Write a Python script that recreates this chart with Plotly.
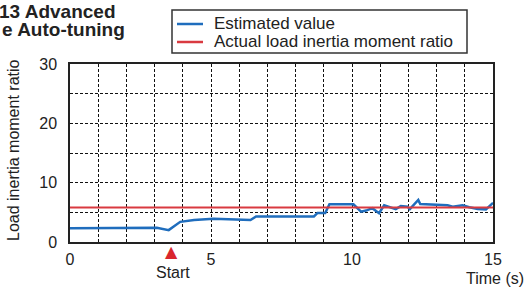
import plotly.graph_objects as go

# Data
time_s = [0, 1, 2, 3.08, 3.5, 3.91, 4.4, 5.09, 6.4, 6.6, 7.1, 8.65, 8.78, 9.05, 9.2,
          10.05, 10.32, 10.5, 10.72, 10.96, 11.14, 11.38, 11.55, 11.73, 11.97, 12.05,
          12.35, 12.42, 13.39, 13.57, 13.92, 14.16, 14.46, 14.75, 15.0]
estimated = [2.3, 2.35, 2.4, 2.4, 2.0, 3.4, 3.7, 3.9, 3.7, 4.3, 4.3, 4.3, 4.9, 4.9, 6.35,
             6.35, 5.1, 5.3, 5.7, 4.85, 6.2, 5.85, 5.55, 6.05, 5.95, 5.55,
             7.1, 6.4, 6.2, 5.95, 6.2, 5.85, 5.55, 5.5, 6.6]
actual_time = [0, 15]
actual_ratio = [5.8, 5.8]
start_time = 3.6
series_names = ["Estimated value", "Actual load inertia moment ratio"]
series_colors = ["#1f6dbd", "#d93a40"]
x_ticks = [0, 5, 10, 15]
y_ticks = [0, 10, 20, 30]

FONT = "Liberation Sans, Arial, sans-serif"
L, R, T, B = 70, 34, 64, 47
PW, PH = 527 - L - R, 289 - T - B


def px(xp):
    return (xp - L) / PW


def py(yp):
    return (289 - B - yp) / PH


fig = go.Figure()
fig.add_trace(go.Scatter(x=time_s, y=estimated, mode="lines", name=series_names[0],
                         line=dict(color=series_colors[0], width=2.5)))
fig.add_trace(go.Scatter(x=actual_time, y=actual_ratio, mode="lines",
                         name=series_names[1],
                         line=dict(color=series_colors[1], width=2)))

grid = dict(showgrid=True, gridcolor="#111", gridwidth=1, griddash="3px,2px")
fig.update_xaxes(range=[0, 15], tickvals=x_ticks, ticks="", zeroline=False,
                 showline=True, linecolor="#222", linewidth=1.5, mirror=True,
                 tickfont=dict(family=FONT, size=16, color="#222"),
                 minor=dict(dtick=1, showgrid=True, gridcolor="#111", gridwidth=1,
                            griddash="3px,2px"),
                 ticklabelstandoff=2, **grid)
fig.update_yaxes(range=[0, 30], tickvals=y_ticks, ticks="", zeroline=False,
                 showline=True, linecolor="#222", linewidth=1.5, mirror=True,
                 tickfont=dict(family=FONT, size=16, color="#222"),
                 minor=dict(dtick=5, showgrid=True, gridcolor="#111", gridwidth=1,
                            griddash="3px,2px"),
                 ticklabelstandoff=8, **grid)

fig.update_layout(
    width=527, height=289,
    margin=dict(l=L, r=R, t=T, b=B),
    plot_bgcolor="white", paper_bgcolor="white",
    font=dict(family=FONT, color="#222"),
    showlegend=False,
)

# Legend box drawn by hand to match the reference's compact layout
fig.add_shape(type="rect", xref="paper", yref="paper",
              x0=px(172), x1=px(467), y0=py(53), y1=py(10),
              line=dict(color="#333", width=1.5), fillcolor="white", layer="above")
for i, (name, color) in enumerate(zip(series_names, series_colors)):
    yy = 24 + 18 * i
    fig.add_shape(type="line", xref="paper", yref="paper",
                  x0=px(177), x1=px(203), y0=py(yy), y1=py(yy),
                  line=dict(color=color, width=2.5), layer="above")
    fig.add_annotation(text=name, xref="paper", yref="paper",
                       x=px(212), y=py(yy), xanchor="left", yanchor="middle",
                       showarrow=False, font=dict(family=FONT, size=17, color="#222"))

fig.add_annotation(text="<b>13 Advanced</b>", xref="paper", yref="paper",
                   x=px(118), y=py(11), xanchor="right", yanchor="middle",
                   showarrow=False, font=dict(family=FONT, size=19, color="#222"))
fig.add_annotation(text="<b>e Auto-tuning</b>", xref="paper", yref="paper",
                   x=px(127), y=py(30), xanchor="right", yanchor="middle",
                   showarrow=False, font=dict(family=FONT, size=19, color="#222"))
fig.add_annotation(text="Load inertia moment ratio", xref="paper", yref="paper",
                   x=px(13), y=py(150), xanchor="center", yanchor="middle",
                   textangle=-90, showarrow=False,
                   font=dict(family=FONT, size=16, color="#222"))
fig.add_annotation(text="Time (s)", xref="paper", yref="paper",
                   x=px(495), y=py(278), xanchor="center", yanchor="middle",
                   showarrow=False, font=dict(family=FONT, size=16, color="#222"))
fig.add_annotation(text="▲", xref="x", yref="paper",
                   x=start_time, y=py(252), xanchor="center", yanchor="middle",
                   showarrow=False, font=dict(family="DejaVu Sans", size=16, color="#d9262e"))
fig.add_annotation(text="Start", xref="x", yref="paper",
                   x=start_time + 0.05, y=py(272), xanchor="center", yanchor="middle",
                   showarrow=False, font=dict(family=FONT, size=16, color="#222"))

fig.write_html("out.html", config={"displayModeBar": False},
               post_script="document.body.style.margin='0';")
